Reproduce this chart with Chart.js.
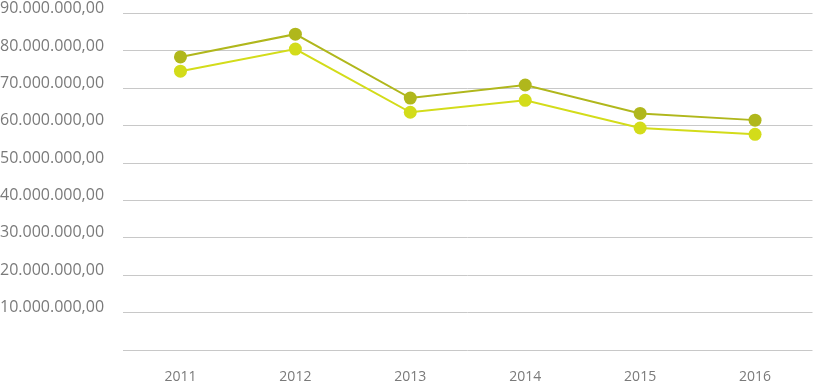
<!DOCTYPE html>
<html><head><meta charset="utf-8">
<script src="https://cdn.jsdelivr.net/npm/chart.js@4"></script>
<style>html,body{margin:0;padding:0;background:#fff;overflow:hidden;width:814px;height:381px;}#wrap{width:819px;height:387px;position:absolute;left:0;top:-6px;}</style>
</head><body><div id="wrap"><canvas id="c"></canvas></div>
<script>
const categories = ["2011","2012","2013","2014","2015","2016"];
const seriesA = [78400000, 84500000, 67400000, 70900000, 63300000, 61500000];
const seriesB = [74600000, 80500000, 63600000, 66800000, 59400000, 57700000];
const yTicks = [0,10000000,20000000,30000000,40000000,50000000,60000000,70000000,80000000,90000000];

function fmt(v){
  const s = Math.round(v).toString().replace(/\B(?=(\d{3})+(?!\d))/g,'.');
  return s + ',00';
}
new Chart(document.getElementById('c'), {
  type:'line',
  data:{labels:categories, datasets:[
    {data:seriesA, borderColor:'#b0b71c', backgroundColor:'#b0b71c', pointBackgroundColor:'#b0b71c', pointBorderWidth:0, pointRadius:6.5, borderWidth:2, tension:0},
    {data:seriesB, borderColor:'#d3dc1a', backgroundColor:'#d3dc1a', pointBackgroundColor:'#d3dc1a', pointBorderWidth:0, pointRadius:6.5, borderWidth:2, tension:0}
  ]},
  options:{
    responsive:true, maintainAspectRatio:false, animation:false,
    layout:{padding:{top:0,right:0,bottom:0,left:0}},
    plugins:{legend:{display:false},tooltip:{enabled:false}},
    scales:{
      x:{offset:true, grid:{display:false, drawTicks:false}, border:{display:false},
         afterFit(s){s.height=31;},
         ticks:{color:'#7a7a7a', font:{family:'Open Sans', size:14}, padding:19}},
      y:{min:0,max:90000000, afterBuildTicks(s){s.ticks=yTicks.map(v=>({value:v}));},
         afterFit(s){s.width=123;},
         grid:{color:'#c8c8c8', lineWidth:1, drawTicks:false}, border:{display:false},
         ticks:{color:'#7a7a7a', font:{family:'Open Sans', size:16}, crossAlign:'far', labelOffset:-5, padding:10,
           callback:(v)=> v===0 ? '' : fmt(v)}}
    }
  }
});
</script></body></html>
